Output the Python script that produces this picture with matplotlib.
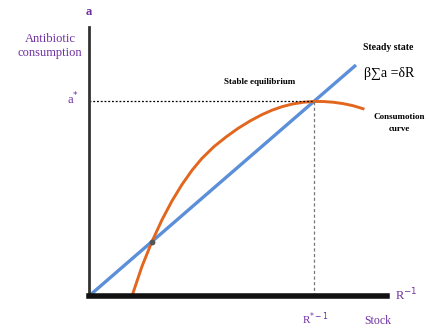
import matplotlib
matplotlib.use("Agg")
import matplotlib.pyplot as plt

# Stock axis (x) and consumption axis (y), in arbitrary units
x_max, y_max = 298, 269

# Steady state line: beta * sum(a) = delta * R
steady_x = [0, 267]
steady_y = [0, 231]

# Consumption curve
curve_x = [43, 53, 63, 73, 83, 93, 103, 113, 125, 137, 149, 161, 173, 183, 193,
           203, 214, 224, 234, 244, 254, 264, 274]
curve_y = [0, 29.7, 54.5, 76.2, 95.1, 111.5, 125.7, 137.7, 149.4, 159, 167.6, 175,
           181.4, 185.8, 189.3, 191.9, 193.7, 194.5, 194.5, 193.8, 192.4, 190.3, 187.3]

# Equilibria
stable_x, stable_y = 225.3, 195.5
unstable_x, unstable_y = 63, 54.5

purple = "#7030A0"
serif = ["Liberation Serif", "DejaVu Serif"]

fig = plt.figure(figsize=(4.29, 3.28), dpi=100)
ax = fig.add_axes([89 / 429, 32 / 328, x_max / 429, y_max / 328])

ax.plot(steady_x, steady_y, color="#5B8FD9", lw=2.4, solid_capstyle="butt")
ax.plot(curve_x, curve_y, color="#E2661E", lw=2.1, solid_joinstyle="round")
ax.plot([0, stable_x], [stable_y, stable_y], color="black", lw=0.9, ls=(0, (1.5, 1.5)))
ax.plot([stable_x, stable_x], [0, stable_y], color="#777777", lw=0.9, ls=(0, (2.5, 2)))
ax.plot(unstable_x, unstable_y, "o", color="#555555", ms=3.2)

ax.set_xlim(0, x_max)
ax.set_ylim(0, y_max)
ax.set_xticks([])
ax.set_yticks([])
for side in ["top", "right"]:
    ax.spines[side].set_visible(False)
ax.spines["left"].set_linewidth(2)
ax.spines["left"].set_color("#333333")
ax.spines["bottom"].set_linewidth(4)
ax.spines["bottom"].set_color("#111111")

# Labels in figure pixel coordinates
def px(x, y):
    return x / 429, 1 - y / 328

fig.text(*px(50, 46), "Antibiotic\nconsumption", color=purple, family=serif,
         fontsize=9, ha="center", va="center", linespacing=1.3)
fig.text(*px(89, 12), "a", color=purple, family=serif, fontsize=9,
         ha="center", va="center", weight="bold")
fig.text(*px(73, 99), "a$^{*}$", color=purple, family=serif, fontsize=9,
         ha="center", va="center")
fig.text(*px(406, 295), "R$^{-1}$", color=purple, family=serif, fontsize=9,
         ha="center", va="center")
fig.text(*px(316, 319), "R$^{*-1}$", color=purple, family=serif, fontsize=8,
         ha="center", va="center")
fig.text(*px(378, 321), "Stock", color=purple, family=serif, fontsize=8.5,
         ha="center", va="center")

fig.text(*px(388, 47), "Steady state", color="black", family=serif, fontsize=7,
         ha="center", va="center", weight="bold")
fig.text(*px(389, 74), "β∑a =δR", color="black", family=serif, fontsize=10,
         ha="center", va="center")
fig.text(*px(260, 82), "Stable equilibrium", color="black", family=serif, fontsize=6.5,
         ha="center", va="center", weight="bold")
fig.text(*px(399, 123), "Consumotion\ncurve", color="black", family=serif, fontsize=6.5,
         ha="center", va="center", weight="bold", linespacing=1.6)

fig.savefig("out.png", dpi=100)
